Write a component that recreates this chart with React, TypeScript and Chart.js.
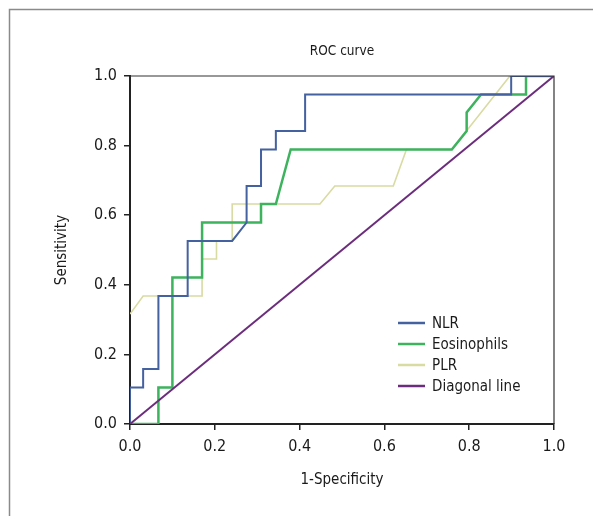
import React, { useEffect, useRef } from "react";
import { Chart, registerables } from "chart.js";

Chart.register(...registerables);

const chartTitle = "ROC curve";
const xTitle = "1-Specificity";
const yTitle = "Sensitivity";
const tickValues = [0, 0.2, 0.4, 0.6, 0.8, 1.0];

const seriesNames = ["NLR", "Eosinophils", "PLR", "Diagonal line"];

const nlrFpr = [0, 0, 0.031, 0.031, 0.067, 0.067, 0.136, 0.136, 0.241, 0.275, 0.275, 0.309, 0.309, 0.344, 0.344, 0.413, 0.413, 0.899, 0.899, 1.0];
const nlrTpr = [0, 0.105, 0.105, 0.158, 0.158, 0.368, 0.368, 0.526, 0.526, 0.579, 0.684, 0.684, 0.789, 0.789, 0.842, 0.842, 0.947, 0.947, 1.0, 1.0];

const eosFpr = [0, 0.067, 0.067, 0.1, 0.1, 0.17, 0.17, 0.309, 0.309, 0.344, 0.379, 0.759, 0.794, 0.794, 0.828, 0.934, 0.934, 1.0];
const eosTpr = [0, 0, 0.105, 0.105, 0.421, 0.421, 0.579, 0.579, 0.632, 0.632, 0.789, 0.789, 0.842, 0.895, 0.947, 0.947, 1.0, 1.0];

const plrFpr = [0, 0.031, 0.17, 0.17, 0.204, 0.204, 0.241, 0.241, 0.448, 0.483, 0.621, 0.652, 0.759, 0.896, 1.0];
const plrTpr = [0.316, 0.368, 0.368, 0.474, 0.474, 0.526, 0.526, 0.632, 0.632, 0.684, 0.684, 0.789, 0.789, 1.0, 1.0];

const diagFpr = [0, 1];
const diagTpr = [0, 1];

const FONT = "'Liberation Sans Narrow', 'Arial Narrow', 'DejaVu Sans Condensed', sans-serif";

const toPoints = (xs: number[], ys: number[]) => xs.map((x, i) => ({ x, y: ys[i] }));

const decorPlugin = {
  id: "decor",
  beforeDraw(chart: any) {
    const ctx = chart.ctx;
    ctx.save();
    ctx.fillStyle = "#ffffff";
    ctx.fillRect(0, 0, chart.width, chart.height);
    ctx.strokeStyle = "#8a8a8a";
    ctx.lineWidth = 1.5;
    ctx.beginPath();
    ctx.moveTo(9.5, chart.height);
    ctx.lineTo(9.5, 9.5);
    ctx.lineTo(chart.width, 9.5);
    ctx.stroke();
    ctx.restore();
  },
  afterDraw(chart: any) {
    const ctx = chart.ctx;
    const a = chart.chartArea;
    ctx.save();
    ctx.strokeStyle = "#333333";
    ctx.lineWidth = 1.2;
    ctx.beginPath();
    ctx.moveTo(a.left, a.top);
    ctx.lineTo(a.right, a.top);
    ctx.lineTo(a.right, a.bottom);
    ctx.stroke();
    ctx.fillStyle = "#1a1a1a";
    ctx.font = `13.5px ${FONT}`;
    ctx.textAlign = "center";
    ctx.textBaseline = "middle";
    ctx.fillText(chartTitle, (a.left + a.right) / 2, 51);
    const lx0 = 398;
    const lx1 = 425;
    const ys = [323, 344, 365, 386];
    ctx.font = `15px ${FONT}`;
    ctx.textAlign = "left";
    chart.data.datasets.forEach((ds: any, i: number) => {
      ctx.strokeStyle = ds.borderColor;
      ctx.lineWidth = 2.5;
      ctx.beginPath();
      ctx.moveTo(lx0, ys[i]);
      ctx.lineTo(lx1, ys[i]);
      ctx.stroke();
      ctx.fillStyle = "#1a1a1a";
      ctx.fillText(ds.label, 432, ys[i] + 1);
    });
    ctx.restore();
  },
};

export default function App() {
  const ref = useRef<HTMLCanvasElement | null>(null);
  useEffect(() => {
    document.body.style.margin = "0";
    if (!ref.current) return;
    const axisCommon = (title: string, pad: any) => ({
      type: "linear" as const,
      min: 0,
      max: 1,
      afterBuildTicks: (s: any) => {
        s.ticks = tickValues.map((v) => ({ value: v }));
      },
      ticks: {
        color: "#1a1a1a",
        font: { family: FONT, size: 16 },
        padding: 7,
        callback: (v: any) => Number(v).toFixed(1),
        maxRotation: 0,
      },
      grid: {
        drawOnChartArea: false,
        drawTicks: true,
        tickLength: 6,
        color: "#222222",
        lineWidth: 1.5,
      },
      border: { display: true, color: "#222222", width: 2 },
      title: {
        display: true,
        text: title,
        color: "#1a1a1a",
        font: { family: FONT, size: 15 },
        padding: pad,
      },
    });
    const chart = new Chart(ref.current, {
      type: "line",
      data: {
        datasets: [
          { label: seriesNames[0], data: toPoints(nlrFpr, nlrTpr), borderColor: "#4461a0", borderWidth: 2, order: 2 },
          { label: seriesNames[1], data: toPoints(eosFpr, eosTpr), borderColor: "#3db35e", borderWidth: 2.5, order: 3 },
          { label: seriesNames[2], data: toPoints(plrFpr, plrTpr), borderColor: "#d8dba2", borderWidth: 1.6, order: 4 },
          { label: seriesNames[3], data: toPoints(diagFpr, diagTpr), borderColor: "#6b2d7c", borderWidth: 2, order: 1 },
        ],
      },
      options: {
        responsive: false,
        animation: false,
        events: [],
        layout: { padding: { left: 0, top: 76, right: 39, bottom: 0 } },
        elements: { point: { radius: 0 }, line: { tension: 0, fill: false } },
        plugins: { legend: { display: false }, title: { display: false }, tooltip: { enabled: false } },
        scales: {
          x: {
            ...axisCommon(xTitle, { top: 0, bottom: 27 }),
            afterFit: (s: any) => {
              s.height = 92;
            },
          },
          y: {
            ...axisCommon(yTitle, { top: 53, bottom: 0 }),
            afterFit: (s: any) => {
              s.width = 130;
            },
          },
        },
      },
      plugins: [decorPlugin],
    });
    return () => chart.destroy();
  }, []);
  return (
    <div style={{ width: 593, height: 516 }}>
      <canvas ref={ref} width={593} height={516} style={{ display: "block" }} />
    </div>
  );
}
